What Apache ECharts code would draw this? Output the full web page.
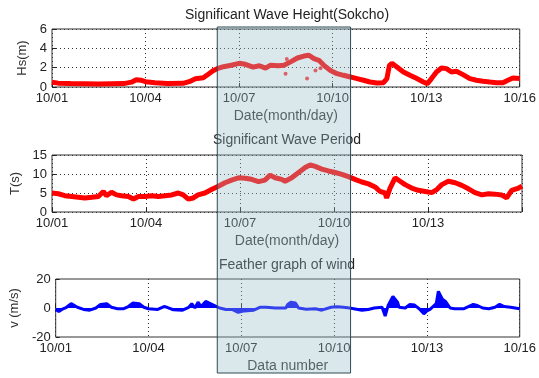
<!DOCTYPE html>
<html>
<head>
<meta charset="utf-8">
<script src="https://cdn.jsdelivr.net/npm/echarts@6/dist/echarts.min.js"></script>
<style>
  html, body { margin: 0; padding: 0; background: #fff; }
  #chart { width: 539px; height: 378px; }
</style>
</head>
<body>
<div id="chart"></div>
<script>
// x tick labels (days from 10/01 00:00)
const dateLabels = ['10/01', '10/04', '10/07', '10/10', '10/13', '10/16']
const periodDateLabels = ['10/01', '10/04', '10/07', '10/10', '10/13', '']

// Significant wave height (m)
const hsDay = [0, 0.2, 0.6, 1.5, 2.3, 2.55, 2.7, 2.85, 3.0, 3.3, 3.7, 4.2, 4.4, 4.6, 4.85, 5.0, 5.15, 5.3, 5.5, 5.75,
  6.0, 6.2, 6.45, 6.65, 6.85, 7.0, 7.25, 7.44, 7.65, 7.87, 8.08, 8.24, 8.4, 8.56, 8.72, 8.93, 9.14, 9.35, 9.57, 9.78,
  9.99, 10.2, 10.42, 10.63, 10.74, 10.82, 10.9, 11.06, 11.27, 11.48, 11.7, 11.91, 12.04, 12.17, 12.33, 12.49, 12.65,
  12.81, 12.97, 13.18, 13.4, 13.61, 13.82, 14.04, 14.25, 14.46, 14.62, 14.78, 15.0]
const hs = [0.5, 0.4, 0.35, 0.3, 0.35, 0.5, 0.75, 0.7, 0.55, 0.45, 0.35, 0.38, 0.55, 0.85, 0.95, 1.3, 1.65, 1.9, 2.1, 2.25,
  2.45, 2.35, 2.05, 2.2, 1.95, 2.25, 2.2, 2.25, 2.6, 3.0, 3.2, 3.28, 2.93, 2.76, 2.24, 1.7, 1.38, 1.21, 1.04, 0.87,
  0.7, 0.52, 0.41, 0.45, 0.87, 2.24, 2.45, 2.07, 1.55, 1.21, 0.87, 0.52, 0.35, 0.87, 1.55, 1.97, 1.9,
  1.55, 1.62, 1.28, 0.87, 0.7, 0.6, 0.52, 0.45, 0.45, 0.7, 0.93, 0.87]
const hsOutlierDay = [7.49, 7.53, 8.18, 8.45, 8.61]
const hsOutlier = [1.38, 2.9, 0.87, 1.7, 1.93]

// Significant wave period (s)
const tpDay = [0, 0.2, 0.41, 0.63, 0.84, 1.05, 1.27, 1.48, 1.64, 1.74, 1.9, 2.06, 2.22, 2.44, 2.6, 2.76, 2.97, 3.18, 3.39,
  3.61, 3.82, 4.03, 4.19, 4.35, 4.51, 4.66, 4.88, 5.09, 5.31, 5.52, 5.73, 5.95, 6.16, 6.37, 6.59, 6.8, 6.96, 7.12, 7.33,
  7.44, 7.65, 7.87, 8.08, 8.24, 8.4, 8.61, 8.82, 9.04, 9.25, 9.46, 9.67, 9.89, 10.1, 10.31, 10.47, 10.63, 10.68, 10.79,
  10.95, 11.11, 11.27, 11.48, 11.69, 11.91, 12.12, 12.28, 12.44, 12.65, 12.87, 13.08, 13.29, 13.5, 13.72, 13.93, 14.14,
  14.35, 14.51, 14.67, 14.89, 15.0]
const tp = [5.0, 4.8, 4.3, 4.1, 3.9, 3.7, 3.9, 4.1, 5.4, 4.3, 5.2, 4.5, 4.3, 4.1, 3.4, 4.1, 4.1, 4.3, 4.1,
  4.3, 4.5, 5.0, 4.5, 3.4, 3.7, 4.5, 5.0, 5.9, 6.8, 7.7, 8.4, 9.0, 8.9, 8.6, 8.0, 8.4, 9.7, 9.0, 8.6,
  8.1, 9.0, 10.4, 11.7, 12.4, 12.0, 11.3, 10.8, 10.4, 9.9, 9.3, 8.6, 7.9, 7.4, 6.6, 5.4, 5.0, 3.7, 6.3,
  9.0, 8.1, 7.2, 6.3, 5.7, 5.4, 5.1, 5.9, 7.2, 8.1, 7.7, 7.0, 6.1, 5.1, 4.5, 4.8, 4.7,
  4.5, 3.7, 5.7, 6.3, 6.8]

// Wind, feather component (m/s)
const windDay = [0, 0.1, 0.2, 0.35, 0.5, 0.7, 0.9, 1.1, 1.3, 1.45, 1.65, 1.8, 2.0, 2.2, 2.35, 2.5, 2.7, 2.85, 3.0, 3.3,
  3.5, 3.6, 3.8, 4.1, 4.3, 4.4, 4.5, 4.6, 4.7, 4.85, 5.0, 5.15, 5.3, 5.5, 5.7, 5.9, 6.1, 6.4, 6.6, 6.8, 7.1, 7.44,
  7.5, 7.6, 7.75, 7.85, 8.1, 8.4, 8.6, 8.9, 9.1, 9.3, 9.5, 9.9, 10.1, 10.3, 10.55, 10.65, 10.75, 10.9, 11.05, 11.1,
  11.3, 11.45, 11.6, 11.75, 11.9, 12.0, 12.1, 12.3, 12.37, 12.5, 12.6, 12.75, 12.9, 13.2, 13.5, 13.6, 13.8, 14.0,
  14.2, 14.35, 14.5, 14.7, 15.0]
const wind = [-1.0, -2.5, -1.0, 0.5, 3.0, 0.5, -1.0, -1.5, 0, 2.5, 3.0, 0.5, -0.5, -0.5, 1.0, 3.5, 3.0, 0.5, -0.5, -1.0,
  1.0, 0.5, -1.2, -1.5, 0.5, 3.0, 0, 4.0, 1.0, 4.5, 3.0, 1.5, 0, -1.0, -1.0, -3.0, -2.0, -1.5, 0.5, 0.5, 0, 0,
  2.5, 4.0, 3.5, 0, -0.8, -0.5, -1.5, 0.5, 0.8, 0.5, 0, -1.5, -1.0, 0, 0.5, -5.5, 2.0, 8.0, 4.0, 0.5,
  0, 2.5, 2.0, -0.5, -4.0, -2.0, -1.0, 3.0, 11.5, 6.0, 4.5, 0, -0.5, -0.5, 2.5, 2.0, 0, -0.5,
  0.5, 2.5, 1.0, 0.5, -0.5]

// highlighted period (days)
const highlightDays = [5.3, 9.575]

function pairs(xs, ys) {
  return xs.map((x, i) => [x, ys[i]])
}

let font = "'Liberation Sans', Arial, sans-serif"
let mychart = echarts.init(document.getElementById('chart'))

function makeX(idx, labels, name) {
  return {
    gridIndex: idx,
    type: 'value',
    min: 0,
    max: 15,
    interval: 3,
    name: name,
    nameLocation: 'middle',
    nameGap: 22,
    nameTextStyle: { color: '#333', fontSize: 14, fontFamily: font },
    axisLine: { show: false },
    axisTick: { show: true, inside: true, length: 4, lineStyle: { color: '#222' } },
    axisLabel: {
      color: '#222', fontSize: 13, fontFamily: font, margin: 5,
      showMinLabel: true, showMaxLabel: true,
      formatter: (v) => labels[Math.round(v / 3)]
    },
    splitLine: { show: true, lineStyle: { color: '#333', type: [1, 3], width: 1 } }
  }
}

function makeY(idx, min, max, interval, name, gap, grid) {
  return {
    gridIndex: idx,
    type: 'value',
    min: min,
    max: max,
    interval: interval,
    name: name,
    nameLocation: 'middle',
    nameGap: gap,
    nameTextStyle: { color: '#333', fontSize: 13, fontFamily: font },
    axisLine: { show: false },
    axisTick: { show: true, inside: true, length: 4, lineStyle: { color: '#222' } },
    axisLabel: { color: '#222', fontSize: 13, fontFamily: font, margin: 5, showMinLabel: true, showMaxLabel: true },
    splitLine: { show: grid, lineStyle: { color: '#333', type: [1, 3], width: 1 } }
  }
}

let gridBase = { left: 52, width: 470, show: true, borderColor: '#333', borderWidth: 1, backgroundColor: '#fff' }
let titleStyle = { fontSize: 14, fontWeight: 'normal', color: '#222', fontFamily: font }

let option = {
  animation: false,
  backgroundColor: '#fff',
  title: [
    { text: 'Significant Wave Height(Sokcho)', left: 287, top: 8, padding: 0, textAlign: 'center', textStyle: titleStyle },
    { text: 'Significant Wave Period', left: 287, top: 133, padding: 0, textAlign: 'center', textStyle: titleStyle },
    { text: 'Feather graph of wind', left: 287, top: 258, padding: 0, textAlign: 'center', textStyle: titleStyle }
  ],
  grid: [
    Object.assign({ top: 29, height: 58 }, gridBase),
    Object.assign({ top: 155, height: 57 }, gridBase),
    Object.assign({ top: 279, height: 58 }, gridBase)
  ],
  xAxis: [
    makeX(0, dateLabels, 'Date(month/day)'),
    makeX(1, periodDateLabels, 'Date(month/day)'),
    makeX(2, dateLabels, 'Data number')
  ],
  yAxis: [
    makeY(0, 0, 6, 2, 'Hs(m)', 20, true),
    makeY(1, 0, 15, 5, 'T(s)', 26, true),
    makeY(2, -20, 20, 20, 'v (m/s)', 30, false)
  ],
  series: [
    {
      name: 'Hs', type: 'line', xAxisIndex: 0, yAxisIndex: 0,
      showSymbol: false,
      lineStyle: { color: '#ff0000', width: 5 },
      data: pairs(hsDay, hs)
    },
    {
      name: 'Hs outliers', type: 'scatter', xAxisIndex: 0, yAxisIndex: 0,
      symbolSize: 4, itemStyle: { color: '#ff0000' },
      data: pairs(hsOutlierDay, hsOutlier)
    },
    {
      name: 'T', type: 'line', xAxisIndex: 1, yAxisIndex: 1,
      showSymbol: false,
      lineStyle: { color: '#ff0000', width: 5 },
      data: pairs(tpDay, tp)
    },
    {
      name: 'wind', type: 'line', xAxisIndex: 2, yAxisIndex: 2,
      showSymbol: false,
      lineStyle: { color: '#0000ff', width: 3 },
      areaStyle: { color: '#0000ff', opacity: 1, origin: 0 },
      data: pairs(windDay, wind)
    }
  ]
}
mychart.setOption(option)

// shaded period box spanning all three panels
let x0 = mychart.convertToPixel({ xAxisIndex: 0 }, highlightDays[0])
let x1 = mychart.convertToPixel({ xAxisIndex: 0 }, highlightDays[1])
mychart.setOption({
  graphic: [{
    type: 'rect',
    z: 100,
    shape: { x: x0, y: 27, width: x1 - x0, height: 346 },
    style: { fill: 'rgba(150,190,200,0.35)', stroke: '#2e4a56', lineWidth: 1 }
  }]
})
</script>
</body>
</html>
